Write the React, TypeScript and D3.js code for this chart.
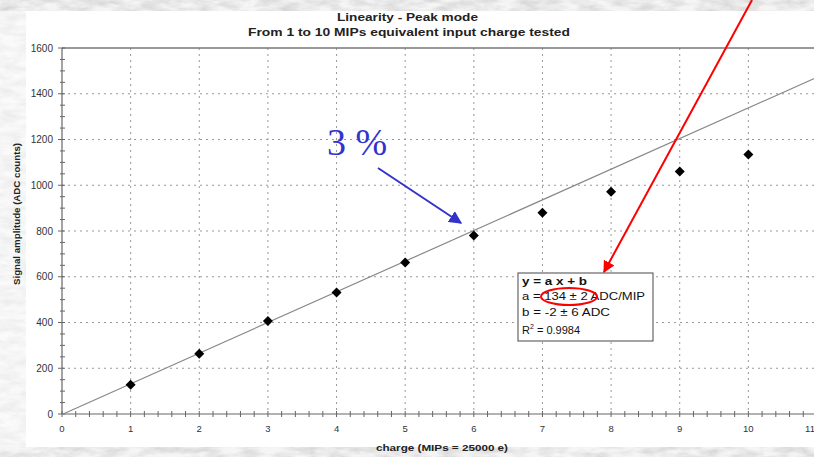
import React from "react";
import * as d3 from "d3";

// Measured peak amplitudes (ADC counts) versus injected charge (MIPs)
const charges = [1, 2, 3, 4, 5, 6, 7, 8, 9, 10];
const amplitudes = [128, 263, 407, 531, 662, 780, 880, 972, 1060, 1134];

// Linear fit y = a x + b
const fitSlope = 134;
const fitIntercept = -2;

const xTicks = [0, 1, 2, 3, 4, 5, 6, 7, 8, 9, 10, 11];
const yTicks = [0, 200, 400, 600, 800, 1000, 1200, 1400, 1600];

const W = 814;
const H = 457;

export default function App() {
  const x = d3.scaleLinear().domain([0, 11]).range([62, 817]);
  const y = d3.scaleLinear().domain([0, 1600]).range([414, 48]);

  const xMinor = d3.range(0, 55).map((i) => i * 0.2);
  const yMinor = d3.range(0, 33).map((i) => i * 50);

  const fitLine = d3
    .line<number>()
    .x((d) => x(d))
    .y((d) => y(fitSlope * d + fitIntercept));

  const marker = d3.symbol().type(d3.symbolSquare).size(50)();

  const font = "Liberation Sans, Arial, sans-serif";

  return (
    <svg
      width={W}
      height={H}
      style={{ position: "absolute", left: 0, top: 0, background: "#fff" }}
    >
      <defs>
        <filter id="marble" x="0" y="0" width="100%" height="100%" colorInterpolationFilters="sRGB">
          <feTurbulence type="fractalNoise" baseFrequency="0.05 0.15" numOctaves="4" seed="3" />
          <feColorMatrix
            type="matrix"
            values="0 0 0 0 0.62  0 0 0 0 0.62  0 0 0 0 0.62  0 0 0 1.6 -0.5"
          />
        </filter>
        <marker id="redHead" viewBox="0 0 10 10" refX="9" refY="5" markerWidth="6" markerHeight="6" orient="auto">
          <path d="M0,0 L10,5 L0,10 z" fill="#ff0000" />
        </marker>
        <marker id="blueHead" viewBox="0 0 10 10" refX="9" refY="5" markerWidth="6.5" markerHeight="6.5" orient="auto">
          <path d="M0,0 L10,5 L0,10 z" fill="#3333cc" />
        </marker>
      </defs>

      {/* textured paper border */}
      <rect x={0} y={0} width={W} height={H} fill="#f5f5f5" />
      <rect x={0} y={0} width={W} height={H} filter="url(#marble)" opacity={0.4} />
      <rect x={26} y={11} width={W - 26} height={436} fill="#fff" />
      <rect x={0} y={11} width={26} height={436} fill="#fff" opacity={0.5} />

      {/* grid */}
      {xTicks.slice(1, 11).map((t) => (
        <line key={"gx" + t} x1={x(t)} x2={x(t)} y1={y(1600)} y2={y(0)} stroke="#999" strokeWidth={1} strokeDasharray="2,4" />
      ))}
      {yTicks.slice(1, 8).map((t) => (
        <line key={"gy" + t} x1={x(0)} x2={W} y1={y(t)} y2={y(t)} stroke="#999" strokeWidth={1} strokeDasharray="2,4" />
      ))}

      {/* top frame */}
      <line x1={x(0)} x2={W} y1={y(1600)} y2={y(1600)} stroke="#777" strokeWidth={1.5} />

      {/* axes */}
      <line x1={x(0)} x2={W} y1={y(0)} y2={y(0)} stroke="#666" strokeWidth={1.2} />
      <line x1={x(0)} x2={x(0)} y1={y(0)} y2={y(1600)} stroke="#666" strokeWidth={1.2} />
      {xMinor.map((t, i) => (
        <line key={"xm" + i} x1={x(t)} x2={x(t)} y1={y(0) - 3} y2={y(0) + 3} stroke="#666" strokeWidth={1} />
      ))}
      {yMinor.map((t, i) => (
        <line key={"ym" + i} x1={x(0) - (t % 200 === 0 ? 4 : 2)} x2={x(0) + 3} y1={y(t)} y2={y(t)} stroke="#666" strokeWidth={1} />
      ))}

      {/* tick labels */}
      {xTicks.map((t) => (
        <text key={"xl" + t} x={Math.min(x(t), 810)} y={432} textAnchor="middle" fontFamily={font} fontSize={9.5} fill="#333">
          {t}
        </text>
      ))}
      {yTicks.map((t) => (
        <text key={"yl" + t} x={53} y={y(t) + 3.5} textAnchor="end" fontFamily={font} fontSize={10} fill="#333">
          {t}
        </text>
      ))}

      {/* titles */}
      <text x={337} y={21} textLength={141} lengthAdjust="spacingAndGlyphs" fontFamily={font} fontSize={11} fontWeight="bold" fill="#222">
        Linearity - Peak mode
      </text>
      <text x={248} y={36} textLength={322} lengthAdjust="spacingAndGlyphs" fontFamily={font} fontSize={11} fontWeight="bold" fill="#222">
        From 1 to 10 MIPs equivalent input charge tested
      </text>
      <text x={376} y={451} textLength={132} lengthAdjust="spacingAndGlyphs" fontFamily={font} fontSize={9.5} fontWeight="bold" fill="#222">
        charge (MIPs = 25000 e)
      </text>
      <text
        transform={`translate(20, 285) rotate(-90)`}
        textLength={142}
        lengthAdjust="spacingAndGlyphs"
        fontFamily={font}
        fontSize={9.5}
        fontWeight="bold"
        fill="#222"
      >
        Signal amplitude (ADC counts)
      </text>

      {/* fit line */}
      <path d={fitLine([0, 11.2]) || ""} fill="none" stroke="#888" strokeWidth={1.2} />

      {/* data */}
      {charges.map((c, i) => (
        <path key={"p" + c} d={marker || ""} transform={`translate(${x(c)}, ${y(amplitudes[i])}) rotate(45)`} fill="#000" />
      ))}

      {/* fit results box */}
      <rect x={518} y={273} width={135} height={68} fill="#fff" stroke="#666" strokeWidth={1.2} />
      <text x={522} y={285} textLength={65} lengthAdjust="spacingAndGlyphs" fontFamily={font} fontSize={11} fontWeight="bold" fill="#111">y = a x + b</text>
      <text x={522} y={300} textLength={123} lengthAdjust="spacingAndGlyphs" fontFamily={font} fontSize={11} fill="#111">a = 134 ± 2 ADC/MIP</text>
      <text x={522} y={316} textLength={88} lengthAdjust="spacingAndGlyphs" fontFamily={font} fontSize={11} fill="#111">b = -2 ± 6 ADC</text>
      <text x={522} y={334} fontFamily={font} fontSize={11} fill="#111">
        R<tspan dy={-5} fontSize={7}>2</tspan><tspan dy={5}> = 0.9984</tspan>
      </text>

      {/* annotations */}
      <ellipse cx={569} cy={296.5} rx={28} ry={8.5} fill="none" stroke="#ff0000" strokeWidth={2} />
      <line x1={752} y1={0} x2={604} y2={272} stroke="#ff0000" strokeWidth={2} markerEnd="url(#redHead)" />

      <text x={327} y={155} fontFamily="Liberation Serif, Times New Roman, serif" fontSize={38} fill="#3333cc">
        3 %
      </text>
      <line x1={378} y1={168} x2={461} y2={223} stroke="#3333cc" strokeWidth={2} markerEnd="url(#blueHead)" />
    </svg>
  );
}
